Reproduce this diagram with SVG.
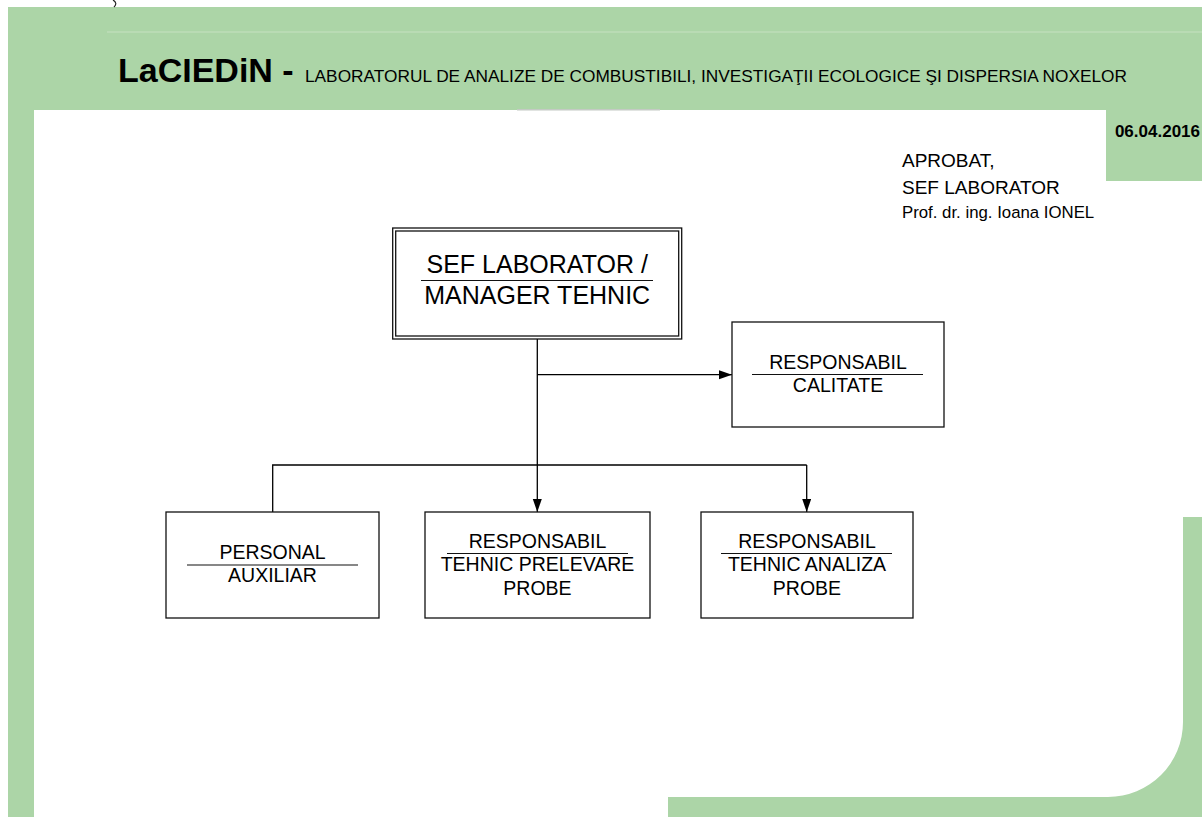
<svg xmlns="http://www.w3.org/2000/svg" width="1202" height="817" viewBox="0 0 1202 817">
<defs>
<style>
.bg{fill:#acd5a7}
.box{fill:#fff;stroke:#111;stroke-width:1.3}
.t{font-family:"Liberation Sans",Arial,sans-serif;fill:#000;text-anchor:middle}
.t19{font-size:19.5px}
.div{stroke:#111;stroke-width:1.2}
.con{fill:none;stroke:#000;stroke-width:1.3}
</style>
<marker id="arr" markerUnits="userSpaceOnUse" markerWidth="14" markerHeight="10" refX="13" refY="4.5" orient="auto">
<path d="M0,0 L13,4.5 L0,9 Z" fill="#000"/>
</marker>
</defs>
<rect width="1202" height="817" fill="#fff"/>
<g id="frame">
<rect class="bg" x="8" y="7" width="1194" height="103"/>
<rect class="bg" x="8" y="110" width="26" height="707"/>
<rect x="107" y="31.5" width="1095" height="1" fill="#c6e2c1"/>
<rect x="517" y="109" width="143" height="1.5" fill="#c4cac4"/>
<rect class="bg" x="1106" y="110" width="96" height="71"/>
<path class="bg" d="M1183,517 H1202 V817 H668 V797 H1108 A75,75 0 0 0 1183,722 Z"/>
<path d="M113,0 Q118,3 114,7" fill="none" stroke="#222" stroke-width="1.2"/>
</g>
<g id="header">
<text x="118" y="82" font-family="'Liberation Sans',Arial,sans-serif" font-size="34" font-weight="bold">LaCIEDiN -</text>
<text x="305" y="82" font-family="'Liberation Sans',Arial,sans-serif" font-size="17" textLength="822" lengthAdjust="spacingAndGlyphs">LABORATORUL DE ANALIZE DE COMBUSTIBILI, INVESTIGAŢII ECOLOGICE ŞI DISPERSIA NOXELOR</text>
<text x="1200" y="137" font-family="'Liberation Sans',Arial,sans-serif" font-size="17" font-weight="bold" text-anchor="end">06.04.2016</text>
</g>
<g id="approval" font-family="'Liberation Sans',Arial,sans-serif">
<text x="902" y="167" font-size="19">APROBAT,</text>
<text x="902" y="194" font-size="19">SEF LABORATOR</text>
<text x="902" y="218" font-size="16.8">Prof. dr. ing. Ioana IONEL</text>
</g>
<g id="connectors">
<line class="con" x1="537.3" y1="339" x2="537.3" y2="512" marker-end="url(#arr)"/>
<line class="con" x1="537.3" y1="374.7" x2="732" y2="374.7" marker-end="url(#arr)"/>
<polyline class="con" points="272.7,512 272.7,465 806.7,465"/>
<line class="con" x1="806.7" y1="465" x2="806.7" y2="512" marker-end="url(#arr)"/>
</g>
<g id="node-sef">
<rect class="box" x="392.7" y="228" width="289" height="111"/>
<rect class="box" x="395.7" y="231" width="283" height="105" fill="none"/>
<text class="t" x="537.2" y="273" font-size="25">SEF LABORATOR /</text>
<line class="div" x1="421" y1="280.5" x2="653" y2="280.5"/>
<text class="t" x="537.2" y="303.5" font-size="25">MANAGER TEHNIC</text>
</g>
<g id="node-calitate">
<rect class="box" x="732" y="322" width="212" height="105"/>
<text class="t t19" x="838" y="368.5">RESPONSABIL</text>
<line class="div" x1="752" y1="374.5" x2="923" y2="374.5"/>
<text class="t t19" x="838" y="392">CALITATE</text>
</g>
<g id="node-personal">
<rect class="box" x="166" y="512" width="213" height="106"/>
<text class="t t19" x="272.5" y="558.5">PERSONAL</text>
<line class="div" x1="187" y1="565" x2="358" y2="565"/>
<text class="t t19" x="272.5" y="582">AUXILIAR</text>
</g>
<g id="node-prelevare">
<rect class="box" x="425" y="512" width="225" height="106"/>
<text class="t t19" x="537.5" y="547.5">RESPONSABIL</text>
<line class="div" x1="447" y1="553.5" x2="628" y2="553.5"/>
<text class="t t19" x="537.5" y="571">TEHNIC PRELEVARE</text>
<text class="t t19" x="537.5" y="594.5">PROBE</text>
</g>
<g id="node-analiza">
<rect class="box" x="701" y="512" width="212" height="106"/>
<text class="t t19" x="807" y="547.5">RESPONSABIL</text>
<line class="div" x1="721" y1="553.5" x2="892" y2="553.5"/>
<text class="t t19" x="807" y="571">TEHNIC ANALIZA</text>
<text class="t t19" x="807" y="594.5">PROBE</text>
</g>
</svg>
